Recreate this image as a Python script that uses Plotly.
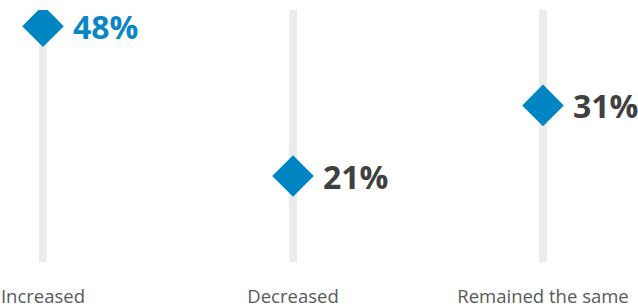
import math
import plotly.graph_objects as go

categories = ["Increased", "Decreased", "Remained the same"]
values = [48, 21, 31]
value_labels = ["48%", "21%", "31%"]
label_colors = ["#0a86c6", "#404040", "#404040"]

x_pos = list(range(len(categories)))

fig = go.Figure()

# background tracks
for xp in x_pos:
    fig.add_shape(type="line", xref="x", yref="paper", x0=xp, x1=xp, y0=0, y1=1,
                  line=dict(color="#ebebeb", width=8), layer="below")

fig.add_trace(go.Scatter(
    x=x_pos, y=values, mode="markers",
    marker=dict(symbol="diamond", size=32, color="#0085c3", line=dict(width=0)),
    hoverinfo="skip", showlegend=False,
))

for xp, v, lab, col in zip(x_pos, values, value_labels, label_colors):
    fig.add_annotation(x=xp, y=math.log10(v), yref="y", xref="x", text=f"<b>{lab}</b>",
                       showarrow=False, xanchor="left", yanchor="middle", xshift=28,
                       font=dict(family="Open Sans", size=32, color=col))

fig.update_layout(
    width=638, height=307,
    margin=dict(l=0, r=0, t=10, b=45, autoexpand=False),
    paper_bgcolor="white", plot_bgcolor="white",
    xaxis=dict(range=[-0.172, 2.38], tickvals=x_pos, ticktext=categories,
               showgrid=False, zeroline=False, showline=False, ticks="",
               ticklabelstandoff=21, automargin=False,
               tickfont=dict(family="Open Sans", size=18.5, color="#595959"), fixedrange=True),
    yaxis=dict(type="log", range=[1.1163, 1.7199], visible=False, showgrid=False,
               automargin=False, fixedrange=True),
    showlegend=False,
)

fig.write_html("out.html", config={"displayModeBar": False},
               post_script="document.body.style.margin='0';")
